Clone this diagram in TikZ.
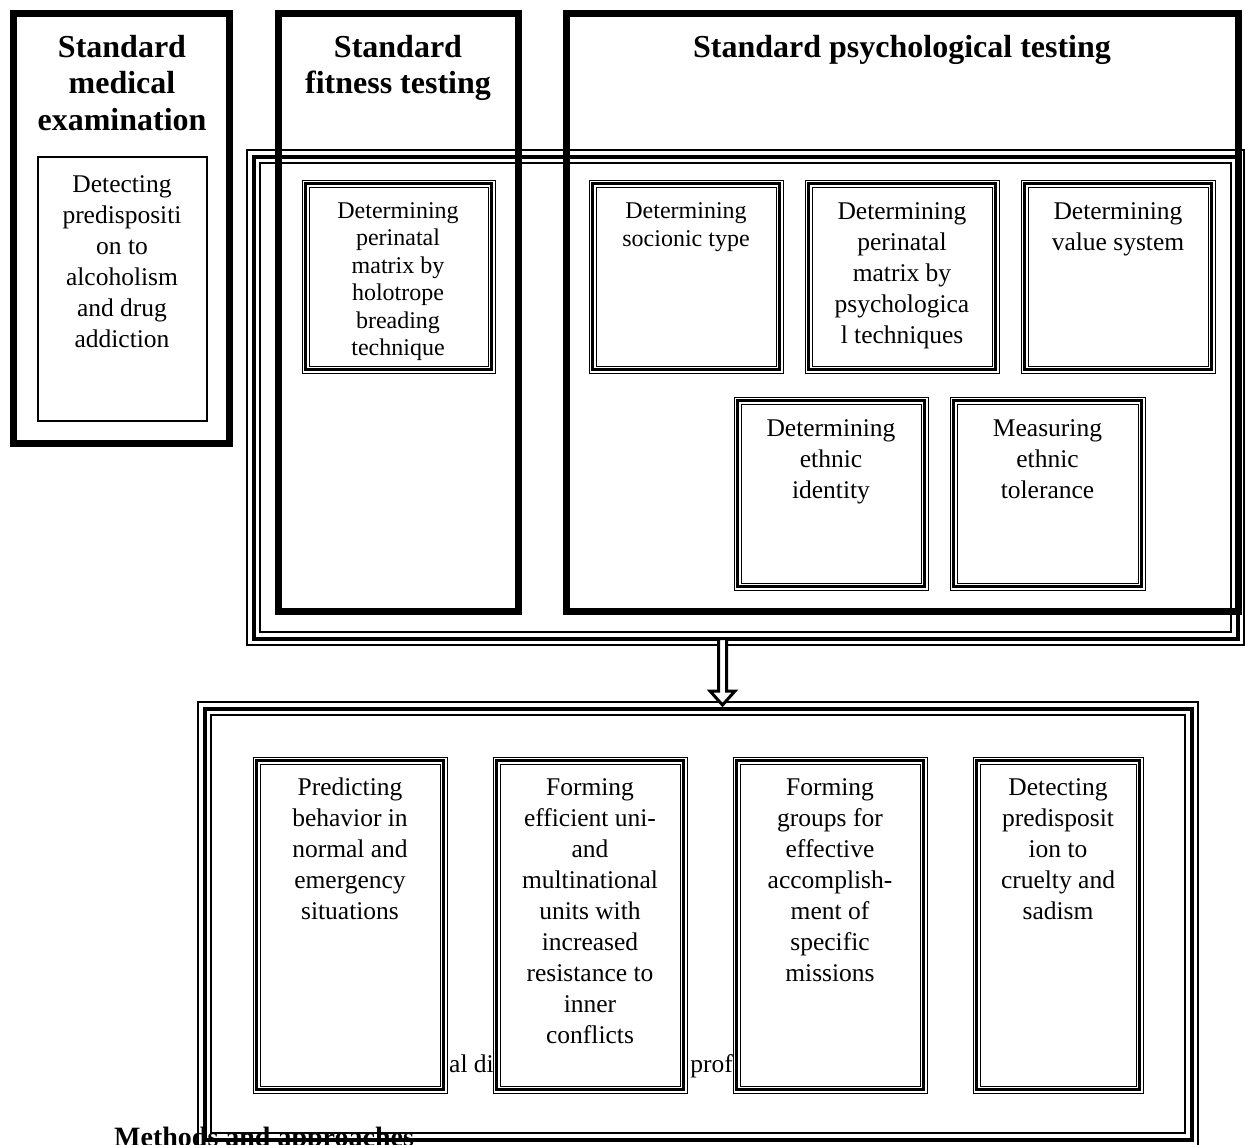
\documentclass[tikz,border=0pt]{standalone}
\usepackage{fontspec}
\setmainfont{Liberation Serif}
\usetikzlibrary{calc}
\tikzset{
  thickbox/.style={draw, line width=7pt, inner sep=0pt, outer sep=0pt, anchor=north west},
  thinbox/.style={draw, line width=1.3pt, inner sep=0pt, outer sep=0pt, anchor=north west},
  hdr/.style={font=\fontsize{32}{36.5}\selectfont\bfseries, align=center, inner sep=0pt, anchor=north},
  txt/.style={font=\fontsize{25.5}{31}\selectfont, align=center, inner sep=0pt, anchor=north},
  txts/.style={font=\fontsize{24}{27.5}\selectfont, align=center, inner sep=0pt, anchor=north},
  frag/.style={font=\fontsize{25.5}{31}\selectfont, inner sep=0pt},
  blockarrow/.style={draw, line width=3pt, fill=white, line join=miter},
}
% big triple box: name, outer x1, y1, x2, y2
\newcommand\bigtri[5]{%
  \draw[line width=1.5pt] (#2,#3) rectangle (#4,#5);
  \node[draw, line width=4pt, inner sep=0pt, outer sep=0pt, anchor=north west,
        minimum width={#4-#2-13}, minimum height={#5-#3-13}] (#1) at ({#2+6.5},{#3+6.5}) {};
  \draw[line width=1.5pt] ({#2+13},{#3+13}) rectangle ({#4-13},{#5-13});}
% small triple box
\newcommand\smalltri[5]{%
  \draw[line width=1pt] (#2,#3) rectangle (#4,#5);
  \node[draw, line width=2.6pt, inner sep=0pt, outer sep=0pt, anchor=north west,
        minimum width={#4-#2-7}, minimum height={#5-#3-7}] (#1) at ({#2+3.5},{#3+3.5}) {};
  \draw[line width=1pt] ({#2+7},{#3+7}) rectangle ({#4-7},{#5-7});}
\begin{document}
\begin{tikzpicture}[x=1pt,y=-1pt]
\useasboundingbox[fill=white] (0,0) rectangle (1245,1144);

% text partly hidden at the bottom
\node[font=\fontsize{28}{31}\selectfont\bfseries, inner sep=0pt, anchor=base west] (methods) at (114,1146) {Methods and approaches};
\node[frag, anchor=base west] (fragA) at (449,1072) {al di};
\node[frag, anchor=base east] (fragB) at (733,1072) {prof};

% big triple boxes
\bigtri{upper}{247}{150}{1244}{645}
\bigtri{lower}{198}{702}{1198}{1146}

% small triple boxes, upper group
\smalltri{holo}{302}{180}{495}{373}
\smalltri{socio}{589}{180}{783}{373}
\smalltri{tech}{805}{180}{999}{373}
\smalltri{value}{1021}{180}{1215}{373}
\smalltri{ident}{734}{397}{928}{590}
\smalltri{toler}{950}{397}{1145}{590}

% small triple boxes, lower group
\smalltri{pred}{253}{757}{447}{1093}
\smalltri{feff}{493}{757}{687}{1093}
\smalltri{fgrp}{733}{757}{927}{1093}
\smalltri{detc}{973}{757}{1143}{1093}

% thick header boxes
\node[thickbox, minimum width=216pt, minimum height=430pt] (med) at (13.5,13.5) {};
\node[thinbox, minimum width=169pt, minimum height=264pt] (medin) at (38,157) {};
\node[thickbox, minimum width=240pt, minimum height=598pt] (fit) at (278.5,13.5) {};
\node[thickbox, minimum width=671.5pt, minimum height=598pt] (psy) at (566.5,13.5) {};

% headers
\node[hdr] (medh) at (122,31.45) {\strut Standard\\medical\\examination};
\node[hdr] (fith) at (398,31.45) {\strut Standard\\fitness testing};
\node[hdr] (psyh) at (902,31.45) {\strut Standard psychological testing};

% box texts
\node[txt] (medt) at (122,170.3) {\strut Detecting\\predispositi\\on to\\alcoholism\\and drug\\addiction};
\node[txts] (holot) at (398,198.75) {\strut Determining\\perinatal\\matrix by\\holotrope\\breading\\technique};
\node[font=\fontsize{24}{28}\selectfont, align=center, inner sep=0pt, anchor=north] (sociot) at (686,198.4) {\strut Determining\\socionic type};
\node[txt] (techt) at (902,197.3) {\strut Determining\\perinatal\\matrix by\\psychologica\\l techniques};
\node[txt] (valuet) at (1118,197.3) {\strut Determining\\value system};
\node[txt] (identt) at (831,414.3) {\strut Determining\\ethnic\\identity};
\node[txt] (tolert) at (1047.5,414.3) {\strut Measuring\\ethnic\\tolerance};

\node[txt] (predt) at (350,773.3) {\strut Predicting\\behavior in\\normal and\\emergency\\situations};
\node[txt] (pefft) at (590,773.3) {\strut Forming\\efficient uni-\\and\\multinational\\units with\\increased\\resistance to\\inner\\conflicts};
\node[txt] (fgrpt) at (830,773.3) {\strut Forming\\groups for\\effective\\accomplish-\\ment of\\specific\\missions};
\node[txt] (detct) at (1058,773.3) {\strut Detecting\\predisposit\\ion to\\cruelty and\\sadism};

% block arrow from upper group to lower group
\coordinate (ax) at (722.5,0);
\coordinate (S) at (upper.south -| ax);
\coordinate (T) at (lower.north -| ax);
\draw[blockarrow] ($(S)+(-4,0)$) -- ($(T)+(-4,-17.5)$) -- ($(T)+(-12.5,-17.5)$)
   -- ($(T)+(0,-3.5)$) -- ($(T)+(12.5,-17.5)$) -- ($(T)+(4,-17.5)$) -- ($(S)+(4,0)$) -- cycle;
\end{tikzpicture}
\end{document}
